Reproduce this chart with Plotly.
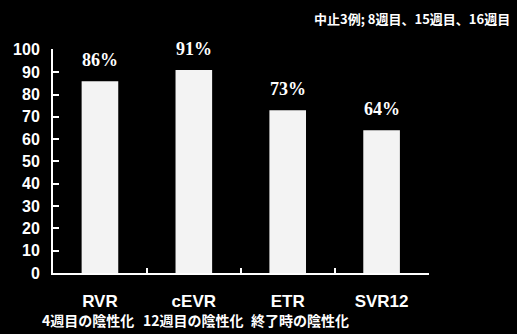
import plotly.graph_objects as go

# Response rates by time point
categories = ["RVR", "cEVR", "ETR", "SVR12"]
subtitles = ["4週目の陰性化", "12週目の陰性化", "終了時の陰性化", ""]
rates = [86, 91, 73, 64]
y_ticks = [0, 10, 20, 30, 40, 50, 60, 70, 80, 90, 100]
note = "中止3例; 8週目、15週目、16週目"

fig = go.Figure(
    go.Bar(
        x=categories,
        y=rates,
        width=0.39,
        marker=dict(color="#f3f3f3", line=dict(width=0)),
        hoverinfo="skip",
    )
)

# Percentage labels above each bar
for c, v in zip(categories, rates):
    fig.add_annotation(
        x=c, y=v, text=f"{v}%", showarrow=False,
        yanchor="bottom", yshift=9,
        font=dict(family="Liberation Serif", size=18, color="white", weight="bold"),
    )

# Second line under each category name, spread slightly wider than the bars
for i, (c, s) in enumerate(zip(categories, subtitles)):
    if s:
        fig.add_annotation(
            x=c, xref="x", y=0, yref="paper", text=s, showarrow=False,
            yanchor="middle", yshift=-47, xshift=12 * (i - 1),
            font=dict(family="Noto Sans CJK JP", size=14, color="white", weight="bold"),
        )

fig.add_annotation(
    xref="paper", yref="paper", x=1.22, y=1.134,
    xanchor="right", yanchor="middle", showarrow=False, text=note,
    font=dict(family="Noto Sans CJK JP", size=13, color="white", weight="bold"),
)

fig.update_layout(
    width=517, height=334,
    margin=dict(l=53, r=88, t=49, b=61),
    paper_bgcolor="black", plot_bgcolor="black",
    showlegend=False,
    xaxis=dict(
        type="category",
        tickson="boundaries", ticks="inside", ticklen=5, tickwidth=2, tickcolor="white",
        tickangle=0, automargin=False, ticklabelstandoff=12,
        showline=True, linecolor="white", linewidth=2,
        showgrid=False, zeroline=False,
        tickfont=dict(family="Liberation Sans", size=17, color="white", weight="bold"),
        range=[-0.5, 3.505],
    ),
    yaxis=dict(
        range=[0, 100.4], tickvals=y_ticks, automargin=False,
        ticks="inside", ticklen=6, tickwidth=2, tickcolor="white",
        showline=True, linecolor="white", linewidth=2,
        showgrid=False, zeroline=False,
        ticklabelstandoff=8,
        tickfont=dict(family="Liberation Sans", size=16, color="white", weight="bold"),
    ),
)

fig.write_html("out.html")
